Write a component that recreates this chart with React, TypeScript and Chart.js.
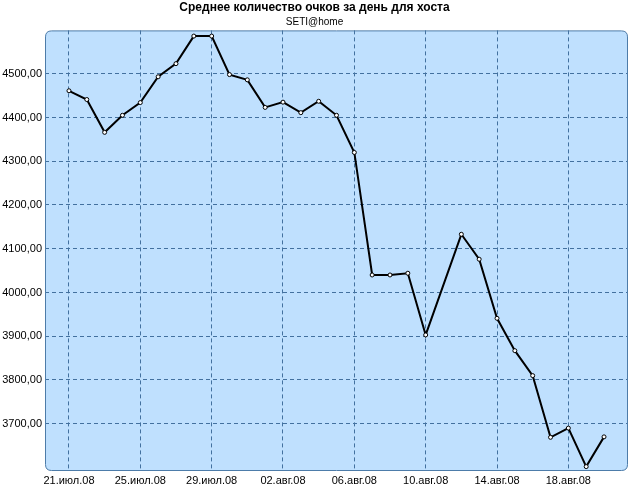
import React, { useEffect, useRef } from 'react';
import { Chart, registerables } from 'chart.js';

Chart.register(...registerables);

const titleText = 'Среднее количество очков за день для хоста';
const subtitleText = 'SETI@home';

// daily dates (11 Aug missing in source)
const dates = [
  '2008-07-21', '2008-07-22', '2008-07-23', '2008-07-24', '2008-07-25', '2008-07-26', '2008-07-27',
  '2008-07-28', '2008-07-29', '2008-07-30', '2008-07-31', '2008-08-01', '2008-08-02', '2008-08-03',
  '2008-08-04', '2008-08-05', '2008-08-06', '2008-08-07', '2008-08-08', '2008-08-09', '2008-08-10',
  '2008-08-12', '2008-08-13', '2008-08-14', '2008-08-15', '2008-08-16', '2008-08-17', '2008-08-18',
  '2008-08-19', '2008-08-20',
];
const values = [
  4461, 4441, 4366, 4405, 4434, 4493, 4523,
  4586, 4586, 4498, 4486, 4423, 4435, 4411,
  4437, 4405, 4320, 4040, 4040, 4044, 3903,
  4133, 4076, 3941, 3867, 3810, 3669, 3690,
  3602, 3670,
];

const xTickDates = ['2008-07-21', '2008-07-25', '2008-07-29', '2008-08-02', '2008-08-06', '2008-08-10', '2008-08-14', '2008-08-18'];
const xTickLabels = ['21.июл.08', '25.июл.08', '29.июл.08', '02.авг.08', '06.авг.08', '10.авг.08', '14.авг.08', '18.авг.08'];
const yTicks = [3700, 3800, 3900, 4000, 4100, 4200, 4300, 4400, 4500];
const yMin = 3592;
const yMax = 4599;
const xPadDays = 1.344;

const dayIndex = (d: string) =>
  Math.round((Date.parse(d + 'T00:00:00Z') - Date.parse(dates[0] + 'T00:00:00Z')) / 86400000);

const FONT = '"Liberation Sans", Arial, sans-serif';

function roundRectPath(ctx: CanvasRenderingContext2D, x: number, y: number, w: number, h: number, r: number) {
  ctx.beginPath();
  ctx.moveTo(x + r, y);
  ctx.lineTo(x + w - r, y);
  ctx.quadraticCurveTo(x + w, y, x + w, y + r);
  ctx.lineTo(x + w, y + h - r);
  ctx.quadraticCurveTo(x + w, y + h, x + w - r, y + h);
  ctx.lineTo(x + r, y + h);
  ctx.quadraticCurveTo(x, y + h, x, y + h - r);
  ctx.lineTo(x, y + r);
  ctx.quadraticCurveTo(x, y, x + r, y);
  ctx.closePath();
}

const plotBg = {
  id: 'plotBg',
  beforeDraw(chart: any) {
    const { ctx, chartArea: a } = chart;
    ctx.save();
    ctx.fillStyle = '#ffffff';
    ctx.fillRect(0, 0, chart.width, chart.height);
    roundRectPath(ctx, a.left + 0.5, a.top + 0.5, a.right - a.left - 1, a.bottom - a.top - 1, 6);
    ctx.fillStyle = '#bfe0fe';
    ctx.fill();
    ctx.restore();
  },
  beforeDatasetsDraw(chart: any) {
    const { ctx, chartArea: a } = chart;
    ctx.save();
    roundRectPath(ctx, a.left + 0.5, a.top + 0.5, a.right - a.left - 1, a.bottom - a.top - 1, 6);
    ctx.strokeStyle = '#4d7ca9';
    ctx.lineWidth = 1;
    ctx.stroke();
    ctx.restore();
  },
};

export default function App() {
  const ref = useRef<HTMLCanvasElement | null>(null);

  useEffect(() => {
    if (!ref.current) return;
    const lastDay = dayIndex(dates[dates.length - 1]);
    const xTickValues = xTickDates.map(dayIndex);
    const chart = new Chart(ref.current, {
      type: 'line',
      data: {
        datasets: [
          {
            data: dates.map((d, i) => ({ x: dayIndex(d), y: values[i] })),
            borderColor: '#000000',
            borderWidth: 2,
            tension: 0,
            pointRadius: 2,
            pointBackgroundColor: '#ffffff',
            pointBorderColor: '#000000',
            pointBorderWidth: 1,
          },
        ],
      },
      options: {
        responsive: false,
        animation: false,
        layout: { padding: { left: 0, right: 4, top: 0, bottom: 0 } },
        plugins: {
          legend: { display: false },
          tooltip: { enabled: false },
          title: {
            display: true,
            text: titleText,
            color: '#000',
            font: { family: FONT, size: 12, weight: 'bold' },
            padding: { top: 0, bottom: 1 },
          },
          subtitle: {
            display: true,
            text: subtitleText,
            color: '#000',
            font: { family: FONT, size: 10, weight: 'normal' },
            padding: { top: 1, bottom: 2 },
          },
        },
        scales: {
          x: {
            type: 'linear',
            min: -xPadDays,
            max: lastDay + xPadDays,
            afterBuildTicks: (s: any) => {
              s.ticks = xTickValues.map((v) => ({ value: v }));
            },
            afterFit: (s: any) => {
              s.height = 16;
              s.paddingLeft = 0;
              s.paddingRight = 0;
            },
            ticks: {
              autoSkip: false,
              maxRotation: 0,
              padding: 3,
              color: '#000',
              font: { family: FONT, size: 11 },
              callback: (v: any) => {
                const idx = xTickValues.indexOf(Math.round(Number(v)));
                return idx >= 0 ? xTickLabels[idx] : '';
              },
            },
            grid: { color: '#43719f', lineWidth: 1, drawTicks: false },
            border: { display: false, dash: [4, 3] },
          },
          y: {
            type: 'linear',
            min: yMin,
            max: yMax,
            afterBuildTicks: (s: any) => {
              s.ticks = yTicks.map((v) => ({ value: v }));
            },
            afterFit: (s: any) => {
              s.width = 45;
              s.paddingTop = 0;
              s.paddingBottom = 0;
            },
            ticks: {
              padding: 3,
              color: '#000',
              font: { family: FONT, size: 11 },
              callback: (v: any) => Number(v).toFixed(2).replace('.', ','),
            },
            grid: { color: '#43719f', lineWidth: 1, drawTicks: false },
            border: { display: false, dash: [4, 3] },
          },
        },
      },
      plugins: [plotBg],
    } as any);
    return () => chart.destroy();
  }, []);

  return (
    <div style={{ position: 'absolute', left: 0, top: 0, width: 633, height: 487, background: '#fff' }}>
      <canvas ref={ref} width={633} height={487} style={{ display: 'block' }} />
    </div>
  );
}
